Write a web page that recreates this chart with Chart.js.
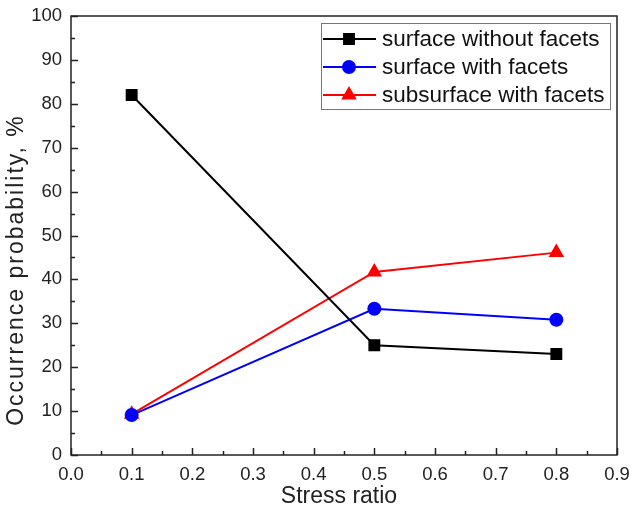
<!DOCTYPE html>
<html>
<head>
<meta charset="utf-8">
<script src="https://cdn.jsdelivr.net/npm/chart.js@4.4.1/dist/chart.umd.min.js"></script>
<style>
  html, body { margin: 0; padding: 0; background: #fff; }
  #wrap { width: 631px; height: 514px; }
</style>
</head>
<body>
<div id="wrap"><canvas id="chart" width="631" height="514"></canvas></div>
<script>
// values
const stressRatio = [0.1, 0.5, 0.8];
const surfaceNoFacets = [82, 25, 23];
const surfaceFacets = [9.1, 33.3, 30.8];
const subsurfaceFacets = [9.3, 41.7, 46.1];
const seriesNames = ['surface without facets', 'surface with facets', 'subsurface with facets'];
const xTitle = 'Stress ratio';
const yTitle = 'Occurrence probability, %';

const FONT = '"Liberation Sans", Arial, sans-serif';

function toPoints(ys) {
    return stressRatio.map((x, i) => ({ x: x, y: ys[i] }));
}

// inward major/minor ticks + full frame + axis titles
const frameTicks = {
    id: 'frameTicks',
    afterDraw(chart) {
        const { ctx, chartArea: a, scales: { x, y } } = chart;
        ctx.save();
        ctx.strokeStyle = '#222';
        ctx.lineWidth = 1.5;
        ctx.strokeRect(a.left, a.top, a.right - a.left, a.bottom - a.top);
        ctx.beginPath();
        for (let v = 0; v <= 0.9001; v += 0.05) {
            const px = Math.round(x.getPixelForValue(v)) + 0.5;
            const major = Math.abs(v * 10 - Math.round(v * 10)) < 1e-6;
            ctx.moveTo(px, a.bottom);
            ctx.lineTo(px, a.bottom - (major ? 7 : 4));
        }
        for (let v = 0; v <= 100; v += 5) {
            const py = Math.round(y.getPixelForValue(v)) + 0.5;
            ctx.moveTo(a.left, py);
            ctx.lineTo(a.left + (v % 10 === 0 ? 7 : 4), py);
        }
        ctx.stroke();

        ctx.fillStyle = '#222';
        ctx.textAlign = 'center';
        ctx.textBaseline = 'middle';
        ctx.font = '23px ' + FONT;
        ctx.fillText(xTitle, (a.left + a.right) / 2 - 5, 497);
        ctx.translate(17, 270);
        ctx.rotate(-Math.PI / 2);
        ctx.font = '23px ' + FONT;
        if ('letterSpacing' in ctx) ctx.letterSpacing = '2px';
        ctx.fillText(yTitle, 0, 0);
        ctx.restore();
    }
};

// legend box inside the plot, top right
const boxLegend = {
    id: 'boxLegend',
    afterDraw(chart) {
        const ctx = chart.ctx;
        const left = 321, top = 23, w = 289, h = 86;
        ctx.save();
        ctx.fillStyle = '#fff';
        ctx.fillRect(left, top, w, h);
        ctx.strokeStyle = '#777';
        ctx.lineWidth = 1;
        ctx.strokeRect(left + 0.5, top + 0.5, w, h);
        ctx.font = '22.5px ' + FONT;
        ctx.textBaseline = 'middle';
        chart.data.datasets.forEach((ds, i) => {
            const cy = 39 + i * 28;
            ctx.strokeStyle = ds.borderColor;
            ctx.lineWidth = 2;
            ctx.beginPath();
            ctx.moveTo(323, cy);
            ctx.lineTo(376, cy);
            ctx.stroke();
            Chart.helpers.drawPoint(ctx, {
                pointStyle: ds.pointStyle,
                radius: ds.pointRadius,
                borderWidth: 1
            }, 349, cy);
            ctx.fillStyle = ds.pointBackgroundColor;
            ctx.strokeStyle = ds.pointBackgroundColor;
            ctx.fill();
            ctx.fillStyle = '#111';
            ctx.fillText(ds.label, 382, cy + 1);
        });
        ctx.restore();
    }
};

function series(label, ys, color, style, r) {
    return {
        label: label,
        data: toPoints(ys),
        borderColor: color,
        backgroundColor: color,
        pointBackgroundColor: color,
        pointBorderColor: color,
        pointStyle: style,
        pointRadius: r,
        pointHoverRadius: r,
        borderWidth: 2,
        tension: 0
    };
}

new Chart(document.getElementById('chart'), {
    type: 'line',
    data: {
        datasets: [
            series(seriesNames[0], surfaceNoFacets, '#000000', 'rect', 7),
            series(seriesNames[1], surfaceFacets, '#0000ff', 'circle', 6),
            series(seriesNames[2], subsurfaceFacets, '#ff0000', 'triangle', 7)
        ]
    },
    options: {
        responsive: false,
        animation: false,
        devicePixelRatio: 1,
        layout: { padding: { top: 16, right: 14, left: 0, bottom: 0 } },
        plugins: { legend: { display: false }, tooltip: { enabled: false } },
        scales: {
            x: {
                type: 'linear',
                min: 0, max: 0.9,
                grid: { display: false },
                border: { display: false },
                ticks: {
                    stepSize: 0.1,
                    color: '#222',
                    padding: 1,
                    font: { family: FONT, size: 18.5 },
                    callback: v => v.toFixed(1)
                },
                afterFit(s) { s.height = 59; }
            },
            y: {
                min: 0, max: 100,
                grid: { display: false },
                border: { display: false },
                ticks: {
                    stepSize: 10,
                    color: '#222',
                    padding: 1,
                    font: { family: FONT, size: 18.5 }
                },
                afterFit(s) { s.width = 71; }
            }
        }
    },
    plugins: [frameTicks, boxLegend]
});
</script>
</body>
</html>
